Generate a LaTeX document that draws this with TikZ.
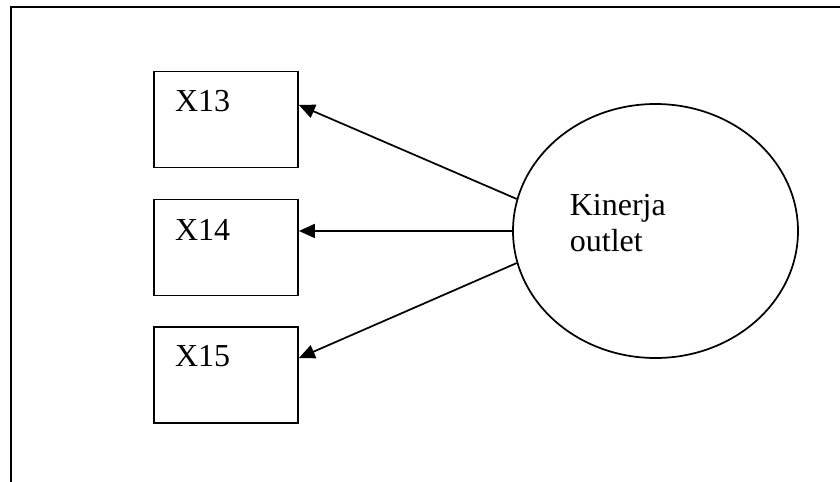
\documentclass[tikz,border=0pt]{standalone}
\usepackage{fontspec}
\setmainfont{Liberation Serif}
\usetikzlibrary{arrows.meta,calc,shapes.geometric}
\begin{document}
\begin{tikzpicture}[x=0.75pt,y=-0.75pt,
  line width=1.3pt,
  every node/.style={font=\fontsize{24}{27}\selectfont},
  indbox/.style={draw,rectangle,minimum width=108pt,minimum height=72pt,inner sep=0pt},
  lbl/.style={inner sep=0pt,anchor=base west},
  latent/.style={draw,ellipse,minimum width=213.75pt,minimum height=190.5pt,inner sep=0pt},
  arr/.style={-{Triangle[length=12pt,width=10.5pt]}}]
\useasboundingbox (0,0) rectangle (840,482);
% frame (left and top edges)
\coordinate (fb) at (11,482);
\coordinate (fc) at (11,7);
\coordinate (fr) at (840,7);
\draw (fb) -- (fc) -- (fr);
% indicator boxes
\node[indbox] (x13) at (226,119.5) {};
\node[indbox] (x14) at (226,247.5) {};
\node[indbox] (x15) at (226,375) {};
\node[lbl] (t13) at ($(x13.north west)+(21,41)$) {X13};
\node[lbl] (t14) at ($(x14.north west)+(21,42)$) {X14};
\node[lbl] (t15) at ($(x15.north west)+(21,40)$) {X15};
% latent variable
\node[latent] (k) at (655.5,231) {};
\node[lbl,align=left] (kt) at (569,251) {Kinerja\\outlet};
% loadings
\draw[arr] (k.167) -- ([yshift=10.9pt]x13.east);
\draw[arr] (k.west) -- ([yshift=12.4pt]x14.east);
\draw[arr] (k.193) -- ([yshift=12.7pt]x15.east);
\end{tikzpicture}
\end{document}
